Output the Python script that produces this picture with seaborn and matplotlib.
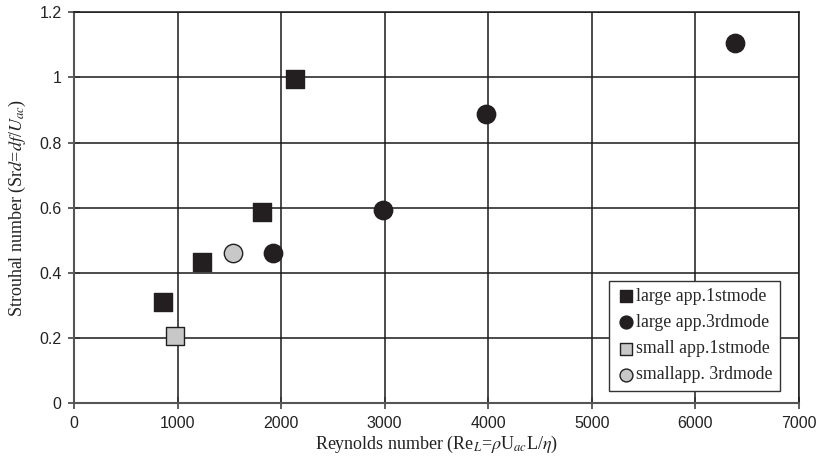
import matplotlib
matplotlib.use("Agg")
import matplotlib.pyplot as plt
import seaborn as sns
import pandas as pd

# Data
large1_re = [856, 1232, 1812, 2133]
large1_sr = [0.312, 0.435, 0.587, 0.994]
large3_re = [1918, 2986, 3977, 6387]
large3_sr = [0.461, 0.594, 0.888, 1.107]
small1_re = [975]
small1_sr = [0.207]
small3_re = [1532]
small3_sr = [0.461]

series_labels = ["large app.1stmode", "large app.3rdmode",
                 "small app.1stmode", "smallapp. 3rdmode"]
x_ticks = [0, 1000, 2000, 3000, 4000, 5000, 6000, 7000]
y_ticks = [0, 0.2, 0.4, 0.6, 0.8, 1.0, 1.2]
y_ticklabels = ["0", "0.2", "0.4", "0.6", "0.8", "1", "1.2"]

sns.set_theme(style="white")
plt.rcParams["mathtext.fontset"] = "stix"

fig = plt.figure(figsize=(8.23, 4.68), dpi=100)
ax = fig.add_axes([0.0899, 0.1383, 0.8809, 0.8354])

dark = "#231f20"
grey = "#c8c8c8"
styles = [
    (large1_re, large1_sr, "s", dark, dark),
    (large3_re, large3_sr, "o", dark, dark),
    (small1_re, small1_sr, "s", grey, dark),
    (small3_re, small3_sr, "o", grey, dark),
]
for (xs, ys, m, fc, ec), lab in zip(styles, series_labels):
    df = pd.DataFrame({"Re": xs, "Sr": ys})
    sns.scatterplot(data=df, x="Re", y="Sr", marker=m, color=fc,
                    edgecolor=ec, linewidth=1.0, s=175, ax=ax,
                    label=lab, zorder=3)

ax.set_xlim(0, 7000)
ax.set_ylim(0, 1.2)
ax.set_xticks(x_ticks)
ax.set_xticklabels([str(v) for v in x_ticks])
ax.set_yticks(y_ticks)
ax.set_yticklabels(y_ticklabels)
ax.grid(True, color="#1a1a1a", linewidth=1.1)
ax.set_axisbelow(True)
for sp in ax.spines.values():
    sp.set_color("#1a1a1a")
    sp.set_linewidth(1.1)
ax.spines["left"].set_color("#555555")
ax.spines["bottom"].set_color("#555555")
ax.spines["left"].set_linewidth(1.5)
ax.spines["bottom"].set_linewidth(1.5)
ax.tick_params(axis="both", direction="inout", length=8, width=1.1,
               color="#333333", labelsize=11.5, labelcolor="#222222",
               left=True, bottom=True, pad=5)
for lbl in ax.get_xticklabels() + ax.get_yticklabels():
    lbl.set_family("Liberation Sans")

serif = "Liberation Serif"
ax.set_xlabel(r"Reynolds number (Re$_{\mathit{L}}$=$\mathit{\rho}$U$_{\mathit{ac}}$L/$\mathit{\eta}$)",
              family=serif, fontsize=13, color="#222222", labelpad=2)
ax.set_ylabel(r"Strouhal number (Sr$\mathit{d}$=$\mathit{df}$/$\mathit{U}_{\mathit{ac}}$)",
              family=serif, fontsize=13, color="#222222", labelpad=8)

leg = ax.legend(loc="lower right", bbox_to_anchor=(0.9733, 0.0325),
                frameon=True, fancybox=False, shadow=False,
                prop={"family": serif, "size": 12.8},
                handletextpad=0.0, borderpad=0.4, labelspacing=0.52,
                markerscale=0.7, borderaxespad=0.0, handlelength=1.1)
leg.get_frame().set_edgecolor("#333333")
leg.get_frame().set_linewidth(1.0)
leg.get_frame().set_alpha(1.0)

fig.savefig("out.png", dpi=100)
